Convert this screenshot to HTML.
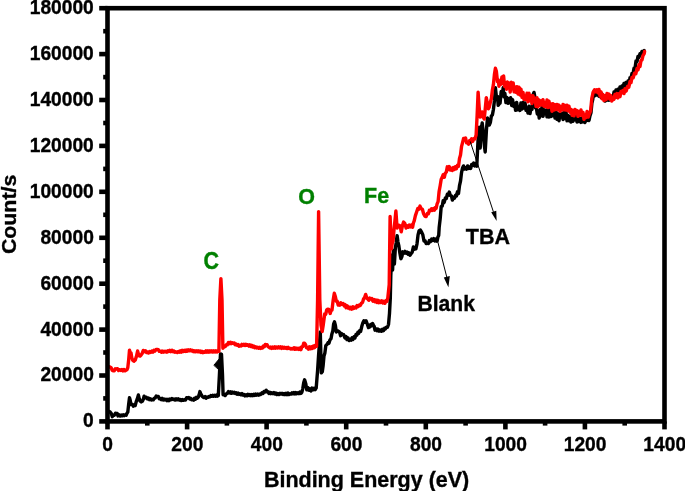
<!DOCTYPE html>
<html><head><meta charset="utf-8"><style>
html,body{margin:0;padding:0;background:#fff;}
body{width:685px;height:491px;overflow:hidden;}
svg{display:block;}
text{font-family:"Liberation Sans",Arial,sans-serif;font-weight:bold;stroke-width:0.35px;}
</style></head><body>
<svg width="685" height="491" viewBox="0 0 685 491">
<rect width="685" height="491" fill="#fff"/>
<g fill="none" stroke-linejoin="round" stroke-linecap="round">
<polyline points="109.5,411.5 110.0,411.9 111.2,413.3 112.3,416.7 113.3,415.1 114.3,415.3 115.4,413.2 116.4,413.4 117.2,413.5 118.0,415.9 119.1,414.8 120.2,416.0 121.3,415.0 122.3,415.8 123.3,414.7 124.2,415.6 125.2,414.7 126.2,415.2 127.0,413.2 127.8,412.1 128.7,403.9 129.5,397.6 130.2,400.2 131.0,404.6 132.2,404.3 133.5,406.2 134.3,404.9 135.2,405.5 136.3,401.4 137.3,398.9 138.4,395.0 139.2,398.6 140.0,401.0 141.2,401.9 142.5,401.0 143.3,399.3 144.1,396.2 145.2,397.9 146.3,397.2 147.4,398.9 148.4,398.0 149.4,399.6 150.3,398.7 151.3,399.9 152.3,399.4 153.3,399.8 154.3,398.2 155.2,398.1 156.2,396.1 157.2,396.5 158.3,396.4 159.3,398.8 160.4,398.5 161.3,399.6 162.2,398.3 163.2,400.0 164.1,399.0 165.0,399.9 166.0,399.3 167.0,400.6 168.0,399.4 169.0,400.6 170.0,399.0 171.0,399.8 172.0,398.5 173.0,399.4 174.0,398.9 175.1,400.0 176.1,398.8 177.1,399.8 178.2,398.7 179.2,400.1 180.3,399.4 181.3,400.5 182.3,399.5 183.4,400.3 184.4,399.7 185.5,400.1 186.6,397.7 187.7,398.0 188.7,397.6 189.7,398.9 190.6,398.2 191.6,399.8 192.6,399.5 193.6,400.1 194.5,398.3 195.4,399.2 196.4,397.4 197.4,398.2 198.3,397.2 199.1,394.9 199.9,391.6 200.7,393.8 201.5,394.9 202.3,396.5 203.2,397.2 204.1,397.6 205.1,396.6 206.1,398.2 207.0,397.0 207.9,397.3 208.9,396.5 209.9,396.9 210.8,395.6 211.8,396.3 212.7,395.3 213.7,396.2 214.6,395.2 215.5,396.2 216.5,395.1 217.4,396.2 218.3,395.6 219.4,375.3 220.5,353.9 221.5,354.3 222.5,374.8 223.1,394.7 224.1,394.3 225.2,395.5 226.3,393.8 227.3,393.4 228.4,391.6 229.4,392.9 230.4,391.8 231.3,393.3 232.3,392.0 233.3,393.0 234.3,392.3 235.2,393.5 236.2,392.7 237.1,394.2 238.1,393.1 239.0,394.4 240.0,393.7 241.0,394.7 242.0,393.6 243.0,395.1 244.0,394.5 245.0,395.9 246.0,394.9 247.0,395.8 248.0,394.3 249.0,395.4 249.9,394.5 250.9,395.7 251.9,394.5 252.9,395.6 253.9,394.2 254.9,395.4 255.8,394.1 256.8,395.1 257.8,394.1 258.8,395.1 259.9,394.0 260.9,394.4 262.0,392.8 263.0,393.5 264.1,391.4 265.1,391.9 266.2,390.2 267.1,391.9 268.0,391.8 268.9,393.4 269.9,392.3 270.9,393.6 271.9,392.7 272.9,393.6 273.9,392.6 274.9,394.0 275.9,393.0 276.9,394.5 277.9,393.6 278.9,394.5 280.0,393.3 281.0,394.1 282.0,393.3 283.0,394.4 284.0,393.5 285.0,394.6 286.0,393.4 287.0,394.6 288.0,393.0 289.0,394.5 290.0,393.8 291.0,394.1 292.0,392.9 293.0,393.8 294.0,392.6 295.0,393.9 295.9,392.6 296.9,393.8 297.9,392.7 298.9,393.6 299.9,392.0 300.9,393.4 301.9,392.1 302.8,388.6 303.7,382.7 304.6,379.8 305.7,383.4 306.8,389.9 307.8,387.5 308.9,390.2 309.9,388.8 311.0,391.0 312.0,388.1 313.1,389.8 314.1,388.2 315.2,389.7 316.2,388.0 317.6,370.3 318.5,356.4 319.3,345.3 320.3,332.0 321.3,372.9 322.3,371.7 323.1,365.8 324.0,355.9 324.9,352.9 325.8,345.7 327.1,344.3 328.1,342.5 329.0,343.1 330.0,339.8 331.0,338.7 331.9,333.9 332.8,331.1 333.6,324.2 334.5,321.8 335.4,325.5 336.3,332.0 337.6,330.8 338.8,331.4 339.7,332.5 340.6,335.7 341.5,333.5 342.4,334.3 343.6,334.7 344.9,337.9 345.9,336.5 347.0,339.6 348.0,337.9 349.1,340.6 350.1,339.5 351.1,340.1 352.1,337.8 353.0,339.4 354.0,336.8 355.0,337.9 356.0,334.4 356.9,335.2 357.9,332.3 358.8,333.2 359.8,330.6 360.7,331.2 361.8,326.3 362.8,323.1 363.9,320.8 365.0,322.3 366.1,320.8 367.1,323.5 368.5,327.6 369.6,327.0 370.7,324.4 371.6,325.9 372.6,323.5 373.5,325.3 374.2,326.4 375.0,330.2 376.1,328.9 377.1,330.8 378.1,329.1 379.2,331.1 380.3,330.1 381.4,331.3 382.4,329.2 383.5,330.7 384.5,328.3 385.4,328.9 386.4,327.2 387.4,327.3 388.5,324.5 389.5,313.3 390.3,298.1 390.8,275.7 391.8,255.0 392.6,270.0 393.4,250.5 394.4,264.0 395.4,247.5 396.2,242.7 397.1,235.6 398.0,242.0 398.8,245.6 399.9,253.3 400.9,258.7 401.9,256.6 402.8,251.8 403.9,253.1 405.0,251.4 406.1,253.2 407.1,252.0 408.1,254.3 409.0,252.9 410.0,255.2 411.0,253.8 412.2,252.2 413.4,247.0 414.6,249.2 415.9,248.8 417.0,243.8 418.0,235.2 419.1,230.7 420.4,230.0 421.6,232.1 422.8,234.8 424.0,241.0 425.1,240.8 426.2,243.6 427.3,243.2 428.4,243.5 429.4,240.6 430.5,241.6 431.6,239.1 432.7,240.5 433.8,238.6 434.9,240.9 436.0,239.1 437.1,241.1 437.9,237.1 438.7,235.5 439.2,227.1 440.2,218.6 441.2,206.6 442.2,206.2 443.2,200.6 444.2,202.4 445.3,198.1 446.3,198.5 447.3,194.3 448.3,195.2 449.3,192.0 450.3,195.5 451.4,195.9 452.4,200.1 453.4,197.6 454.4,198.3 455.4,195.6 456.4,196.0 457.5,191.8 458.5,193.6 459.5,185.6 460.5,181.2 461.5,172.9 462.5,168.0 463.5,165.9 464.6,169.1 465.6,168.0 466.6,169.1 467.6,165.9 468.7,168.4 469.7,167.1 470.7,168.4 471.7,164.4 472.7,165.2 473.7,163.0 474.8,166.0 475.8,163.6 476.8,166.2 477.1,159.7 478.0,140.9 479.2,127.1 480.2,148.0 481.2,129.3 482.2,123.0 483.5,134.4 484.4,145.7 485.2,152.0 486.5,129.0 487.5,118.0 488.4,123.3 489.3,125.0 490.4,122.3 491.4,115.8 492.4,114.9 493.4,109.5 494.4,101.0 495.4,87.8 496.4,96.7 497.5,96.5 498.2,105.3 499.0,104.0 500.1,103.2 501.2,91.4 502.3,94.3 503.2,87.8 504.0,96.8 504.9,93.5 505.9,102.6 506.9,97.4 507.9,103.3 508.9,98.7 509.8,102.7 510.7,97.7 511.7,105.6 512.6,99.7 513.5,106.3 514.6,103.4 515.6,110.4 516.7,102.5 517.7,109.7 518.8,106.8 519.9,110.4 520.9,103.0 522.0,109.0 523.0,102.4 524.1,108.1 525.1,102.9 526.0,110.2 527.0,108.7 528.0,113.1 529.0,106.3 530.0,113.6 531.0,107.9 532.0,109.3 533.0,94.9 534.0,92.4 534.8,96.6 535.5,108.0 536.4,108.3 537.3,114.1 538.3,110.8 539.2,118.1 540.2,109.4 541.1,115.9 542.1,106.1 543.1,116.3 544.0,109.8 545.0,113.6 546.0,110.2 547.0,116.9 548.0,108.9 549.0,117.1 550.0,109.9 551.0,116.5 552.0,111.7 553.0,115.8 554.0,108.2 555.0,118.0 556.0,111.3 557.0,119.3 558.0,113.7 559.0,120.7 560.0,114.0 561.0,117.1 562.0,113.8 563.0,119.5 564.0,111.9 565.0,118.6 566.0,111.4 567.0,120.8 568.0,115.4 569.0,120.7 570.0,116.4 571.0,122.1 572.0,115.9 573.0,121.3 574.0,113.6 575.0,119.7 576.0,116.2 577.0,122.0 578.0,116.4 579.0,121.6 580.0,118.4 581.0,122.4 582.0,118.0 583.0,121.9 584.0,118.5 585.0,122.5 586.0,117.4 587.0,120.4 588.0,116.4 589.0,120.5 590.0,115.6 591.0,112.7 591.9,103.0 592.8,99.4 593.6,92.0 594.7,95.9 595.8,90.8 596.8,95.0 597.9,91.2 598.9,96.2 599.9,92.6 601.0,97.5 602.0,93.8 603.0,97.8 604.0,96.1 605.0,101.1 606.0,95.6 607.0,100.2 608.0,97.4 609.0,100.2 610.0,96.7 611.0,99.6 612.0,96.7 613.0,98.1 614.0,92.0 615.0,94.1 616.0,90.0 617.0,94.6 618.0,89.3 619.0,91.4 620.0,87.0 621.0,90.5 622.0,86.1 623.0,87.6 624.0,83.5 625.0,87.1 626.0,82.6 627.0,84.1 628.0,81.0 629.0,84.6 630.0,77.7 631.0,78.0 632.0,73.4 633.0,73.7 634.0,68.3 635.0,68.4 636.0,61.0 637.0,61.6 638.0,56.4 639.0,57.3 640.0,53.8 641.0,54.2 642.0,51.4 643.1,52.0 644.2,50.5" stroke="#000" stroke-width="3.4"/>
<polygon points="214.1,365 219.5,358.5 219.5,370" fill="#000" stroke="#000" stroke-width="1"/>
<polyline points="109.5,366.8 110.0,367.2 111.1,367.6 112.1,370.2 113.2,370.8 114.3,370.8 115.3,368.8 116.4,369.0 117.5,368.7 118.6,370.5 119.7,369.7 120.8,370.5 121.9,369.5 123.0,370.9 124.0,369.5 125.1,370.8 126.2,370.1 127.0,369.7 127.8,367.6 128.7,359.6 129.5,350.2 130.2,352.6 131.0,352.8 131.8,357.7 132.7,360.3 133.9,361.3 135.2,360.1 136.4,356.5 137.6,351.0 138.4,353.9 139.2,355.9 140.1,356.1 140.9,355.3 142.1,353.6 143.3,350.4 144.3,351.6 145.4,350.7 146.4,352.4 147.4,351.9 148.5,353.0 149.6,351.5 150.7,352.4 151.8,351.1 152.9,352.1 153.9,350.3 155.0,351.1 156.1,349.4 157.2,349.4 158.3,349.6 159.3,351.3 160.4,351.2 161.3,352.2 162.2,351.1 163.2,352.1 164.1,351.2 165.0,352.0 166.0,351.2 166.9,352.1 167.9,350.8 168.8,351.4 169.8,350.2 170.9,351.7 172.0,350.2 173.1,351.8 174.1,351.1 175.2,352.2 176.3,351.9 177.3,352.5 178.3,351.4 179.3,352.1 180.3,350.9 181.3,352.1 182.3,350.4 183.3,351.5 184.3,350.3 185.3,351.5 186.3,350.1 187.3,351.3 188.3,349.8 189.3,350.7 190.3,349.8 191.3,351.0 192.2,350.2 193.2,351.6 194.2,350.7 195.2,351.8 196.2,350.7 197.1,351.7 198.1,350.7 199.1,351.9 200.1,351.0 201.1,352.4 202.0,351.4 203.0,352.7 204.0,351.8 205.0,352.2 206.0,350.9 207.0,352.2 208.0,350.9 209.0,352.1 210.0,350.9 211.0,351.9 211.9,350.9 212.9,352.0 213.9,350.8 214.9,351.9 215.9,350.8 216.9,351.9 217.9,350.8 218.9,351.4 219.8,299.9 220.9,278.7 222.0,299.9 222.9,348.2 224.1,346.8 225.2,346.6 226.3,344.8 227.3,344.9 228.4,342.6 229.4,343.6 230.4,342.2 231.3,343.6 232.3,342.7 233.3,343.5 234.3,343.0 235.2,344.8 236.2,344.0 237.1,345.3 238.1,344.5 239.0,346.2 240.0,345.4 241.0,345.9 241.9,344.4 242.9,345.4 243.9,344.3 244.9,345.4 245.9,344.2 246.8,345.3 247.8,344.7 248.8,346.1 249.8,344.8 250.8,346.5 251.8,345.4 252.8,347.0 253.8,346.1 254.7,347.8 255.7,346.7 256.7,348.0 257.7,347.2 258.7,348.2 259.7,347.3 260.7,348.5 261.6,347.4 262.5,347.9 263.4,345.9 264.4,346.7 265.3,344.5 266.2,344.6 267.1,344.6 268.0,346.6 268.9,347.2 269.9,348.0 270.8,347.0 271.8,348.4 272.8,347.1 273.8,348.1 274.8,346.9 275.7,348.2 276.7,347.0 277.7,347.9 278.6,346.8 279.6,348.0 280.6,346.8 281.6,348.4 282.6,347.1 283.5,348.2 284.5,347.3 285.4,348.2 286.3,347.5 287.2,348.5 288.2,347.4 289.1,348.6 290.0,348.3 291.0,349.0 292.0,348.4 293.0,349.0 294.0,347.7 295.0,349.3 296.0,348.0 297.0,349.1 298.0,348.2 299.0,349.5 300.0,348.0 301.0,349.6 301.9,346.6 302.8,346.6 303.7,343.3 304.6,343.3 305.5,344.5 306.5,347.7 307.4,348.0 308.4,349.2 309.4,346.8 310.5,348.8 311.5,346.7 312.5,348.4 313.5,345.9 314.6,347.6 315.6,345.2 316.6,346.3 317.6,299.6 318.6,211.6 319.8,299.5 321.0,325.2 322.2,331.5 323.4,323.9 324.7,314.0 325.7,314.3 326.7,309.9 327.7,309.2 328.9,309.5 330.2,313.5 331.1,310.2 332.0,310.0 333.1,300.6 334.3,293.2 335.3,296.4 336.3,301.2 337.2,301.3 338.2,305.0 339.1,303.4 340.0,305.1 340.9,302.8 341.8,304.2 343.1,303.5 344.3,306.0 345.2,304.6 346.1,307.7 347.1,305.8 348.0,308.0 348.9,307.0 349.9,308.8 350.9,307.2 351.9,309.1 353.0,306.7 354.0,308.4 355.0,307.2 356.1,307.9 357.1,305.5 358.2,306.5 359.3,305.0 360.4,305.4 361.4,303.2 362.5,302.6 363.6,298.8 364.6,297.6 365.7,294.4 366.8,298.3 367.8,298.9 368.8,300.3 369.7,298.0 370.7,299.1 371.8,298.6 372.9,301.2 373.9,299.5 375.0,301.7 375.9,300.0 376.9,302.4 377.9,300.2 378.8,302.7 379.8,301.0 380.7,302.4 381.8,300.9 382.8,302.9 383.8,301.4 384.9,303.3 385.9,300.7 386.8,301.3 387.8,298.0 389.2,284.7 390.1,216.5 391.4,248.9 392.2,243.5 393.0,241.0 394.0,229.5 394.9,221.3 395.9,211.0 397.1,228.0 398.4,225.0 399.6,225.5 400.4,227.0 401.2,231.8 402.4,225.8 403.6,222.0 404.9,223.6 406.1,228.0 407.2,225.7 408.2,227.3 409.3,225.1 410.4,226.9 411.5,225.0 412.6,227.3 413.4,223.0 414.2,220.8 415.4,215.6 416.7,211.8 417.8,208.4 418.9,209.2 420.0,206.1 421.2,208.7 422.4,209.3 423.6,213.7 424.8,216.1 426.1,216.6 427.3,213.5 428.4,213.7 429.4,210.3 430.5,210.7 431.5,208.8 432.6,210.4 433.6,208.4 434.6,210.1 435.4,207.6 436.1,208.5 437.1,203.9 438.1,201.6 439.1,191.5 440.2,185.5 441.2,179.3 442.2,177.4 443.2,174.7 444.3,177.3 445.3,173.1 446.3,172.1 447.3,166.8 448.3,169.6 449.3,166.5 450.3,170.1 451.3,168.2 452.4,170.5 453.4,167.6 454.4,169.4 455.4,166.7 456.4,168.7 457.5,165.2 458.5,166.2 459.5,158.5 460.5,155.0 461.5,146.7 462.5,142.8 463.6,138.4 464.6,138.6 465.6,138.0 466.6,142.9 467.6,142.8 468.6,144.2 469.7,140.5 470.7,142.6 471.7,138.8 472.7,141.3 473.7,138.8 474.9,138.9 476.1,135.1 477.1,115.9 478.1,92.2 479.1,106.6 480.2,117.0 481.2,116.5 482.2,111.9 483.2,117.0 484.2,119.0 485.2,109.1 486.3,97.6 487.3,103.4 488.3,108.8 489.3,107.2 490.3,102.5 491.4,98.5 492.4,89.8 493.4,84.7 494.4,74.6 495.4,68.2 496.4,71.6 497.5,81.6 498.2,79.9 499.0,86.2 500.0,82.1 501.0,84.3 501.9,76.9 502.7,83.3 503.6,76.0 504.6,86.3 505.6,82.7 506.5,89.3 507.3,82.0 508.2,86.0 509.2,83.0 510.2,92.1 511.2,82.2 512.2,88.9 513.2,82.9 514.1,91.9 515.0,87.0 516.0,92.4 517.0,86.6 518.0,94.1 519.0,87.1 520.0,95.0 521.0,89.2 522.0,97.3 523.0,92.3 524.0,99.5 525.0,95.8 526.0,99.5 527.0,93.2 528.0,101.8 529.0,93.2 530.0,100.7 531.0,95.7 532.0,103.6 533.0,95.7 534.0,101.3 535.0,98.1 536.0,106.2 537.0,97.7 538.0,106.8 539.0,100.0 540.0,105.2 541.0,101.0 542.0,105.0 543.0,99.7 544.0,106.3 545.0,102.6 546.0,106.8 547.0,100.0 548.0,107.5 549.0,101.3 550.0,107.0 551.0,103.8 552.0,111.4 553.0,103.6 554.0,110.0 555.0,104.6 556.0,109.5 557.0,104.5 558.0,109.7 559.0,105.1 560.0,111.3 561.0,106.6 562.0,109.9 563.0,104.5 564.0,109.9 565.0,105.3 566.0,110.1 567.0,105.2 568.0,110.9 569.0,106.2 570.0,112.2 571.0,109.4 572.0,115.2 573.0,110.5 574.0,115.9 575.0,109.4 576.0,113.5 577.0,110.6 578.0,116.4 579.0,111.4 580.0,115.2 581.0,110.0 582.0,115.5 583.0,112.3 584.0,119.4 585.0,115.0 586.1,117.5 587.1,111.4 588.2,117.1 589.3,114.0 590.6,110.9 591.8,98.4 593.2,92.1 594.5,89.8 595.7,91.8 596.9,89.7 598.0,92.8 599.0,89.4 600.0,96.0 601.0,91.8 602.0,98.8 603.0,94.7 604.0,100.6 605.0,96.0 606.0,99.7 607.0,93.5 608.0,98.0 609.0,94.1 609.9,99.3 610.9,95.7 611.8,101.1 612.8,97.9 613.9,99.4 614.9,94.5 616.0,97.4 617.0,93.6 618.0,97.9 619.0,93.7 620.0,96.6 621.0,91.5 622.0,92.9 623.0,90.4 624.0,93.6 625.0,88.8 626.2,91.1 627.5,86.5 628.8,87.2 630.0,81.5 631.0,82.7 632.0,77.5 633.2,77.8 634.5,73.3 635.8,73.8 637.0,68.6 638.0,69.9 639.0,64.8 640.0,66.5 641.0,60.4 642.0,59.9 643.0,55.7 644.2,53.7 644.6,51.5" stroke="#ff0000" stroke-width="3.4"/>
</g>
<g stroke="#000" stroke-width="4.6" fill="none" stroke-linecap="butt">
<line x1="107.5" y1="421.4" x2="107.5" y2="429.4" /><line x1="187.1" y1="421.4" x2="187.1" y2="429.4" /><line x1="266.6" y1="421.4" x2="266.6" y2="429.4" /><line x1="346.2" y1="421.4" x2="346.2" y2="429.4" /><line x1="425.8" y1="421.4" x2="425.8" y2="429.4" /><line x1="505.4" y1="421.4" x2="505.4" y2="429.4" /><line x1="584.9" y1="421.4" x2="584.9" y2="429.4" /><line x1="664.5" y1="421.4" x2="664.5" y2="429.4" /><line x1="147.3" y1="421.4" x2="147.3" y2="425.6" /><line x1="226.9" y1="421.4" x2="226.9" y2="425.6" /><line x1="306.4" y1="421.4" x2="306.4" y2="425.6" /><line x1="386.0" y1="421.4" x2="386.0" y2="425.6" /><line x1="465.6" y1="421.4" x2="465.6" y2="425.6" /><line x1="545.1" y1="421.4" x2="545.1" y2="425.6" /><line x1="624.7" y1="421.4" x2="624.7" y2="425.6" /><line x1="107.5" y1="421.4" x2="99.2" y2="421.4" /><line x1="107.5" y1="375.5" x2="99.2" y2="375.5" /><line x1="107.5" y1="329.6" x2="99.2" y2="329.6" /><line x1="107.5" y1="283.7" x2="99.2" y2="283.7" /><line x1="107.5" y1="237.8" x2="99.2" y2="237.8" /><line x1="107.5" y1="191.8" x2="99.2" y2="191.8" /><line x1="107.5" y1="145.9" x2="99.2" y2="145.9" /><line x1="107.5" y1="100.0" x2="99.2" y2="100.0" /><line x1="107.5" y1="54.1" x2="99.2" y2="54.1" /><line x1="107.5" y1="8.2" x2="99.2" y2="8.2" /><line x1="107.5" y1="398.4" x2="103.2" y2="398.4" /><line x1="107.5" y1="352.5" x2="103.2" y2="352.5" /><line x1="107.5" y1="306.6" x2="103.2" y2="306.6" /><line x1="107.5" y1="260.7" x2="103.2" y2="260.7" /><line x1="107.5" y1="214.8" x2="103.2" y2="214.8" /><line x1="107.5" y1="168.9" x2="103.2" y2="168.9" /><line x1="107.5" y1="123.0" x2="103.2" y2="123.0" /><line x1="107.5" y1="77.1" x2="103.2" y2="77.1" /><line x1="107.5" y1="31.2" x2="103.2" y2="31.2" />
<rect x="107.5" y="8.2" width="557.0" height="413.2" />
</g>
<g font-size="19.2" fill="#000" stroke="#000">
<text transform="translate(93.8,427.3) scale(1,1.05)" text-anchor="end">0</text><text transform="translate(93.8,381.4) scale(1,1.05)" text-anchor="end">20000</text><text transform="translate(93.8,335.5) scale(1,1.05)" text-anchor="end">40000</text><text transform="translate(93.8,289.6) scale(1,1.05)" text-anchor="end">60000</text><text transform="translate(93.8,243.7) scale(1,1.05)" text-anchor="end">80000</text><text transform="translate(93.8,197.7) scale(1,1.05)" text-anchor="end">100000</text><text transform="translate(93.8,151.8) scale(1,1.05)" text-anchor="end">120000</text><text transform="translate(93.8,105.9) scale(1,1.05)" text-anchor="end">140000</text><text transform="translate(93.8,60.0) scale(1,1.05)" text-anchor="end">160000</text><text transform="translate(93.8,14.1) scale(1,1.05)" text-anchor="end">180000</text><text transform="translate(107.7,450.5) scale(1,1.03)" text-anchor="middle">0</text><text transform="translate(187.3,450.5) scale(1,1.03)" text-anchor="middle">200</text><text transform="translate(266.8,450.5) scale(1,1.03)" text-anchor="middle">400</text><text transform="translate(346.4,450.5) scale(1,1.03)" text-anchor="middle">600</text><text transform="translate(426.0,450.5) scale(1,1.03)" text-anchor="middle">800</text><text transform="translate(505.6,450.5) scale(1,1.03)" text-anchor="middle">1000</text><text transform="translate(585.1,450.5) scale(1,1.03)" text-anchor="middle">1200</text><text transform="translate(664.7,450.5) scale(1,1.03)" text-anchor="middle">1400</text>
</g>
<text transform="translate(263.9,486.9) scale(1,1.03)" font-size="21.5" fill="#000" stroke="#000">Binding Energy (eV)</text>
<text transform="translate(15.9,214.4) scale(1,1.025) rotate(-90)" font-size="20.8" text-anchor="middle" fill="#000" stroke="#000">Count/s</text>
<g font-size="21.5" fill="#008000" stroke="#008000">
<text transform="translate(203.5,268.5) scale(1,1.08)">C</text>
<text transform="translate(298.2,204.2) scale(1,1.04)">O</text>
<text transform="translate(364.0,202.9) scale(1,1.05)">Fe</text>
</g>
<g fill="#000" stroke="#000">
<text transform="translate(465.8,244.3) scale(1,1.05)" font-size="21.5">TBA</text>
<text transform="translate(417.5,310.9) scale(1,1.05)" font-size="21.1">Blank</text>
</g>
<g stroke="#000" stroke-width="1.0" fill="#000">
<line x1="470.2" y1="141.4" x2="493.4" y2="211.8"/>
<polygon points="496.6,221 491.2,212.3 496.3,210.8" stroke="none"/>
<line x1="437.9" y1="242.2" x2="446.8" y2="277.2"/>
<polygon points="448.4,287.2 443.8,277.6 449.8,276.1" stroke="none"/>
</g>
</svg>
</body></html>
